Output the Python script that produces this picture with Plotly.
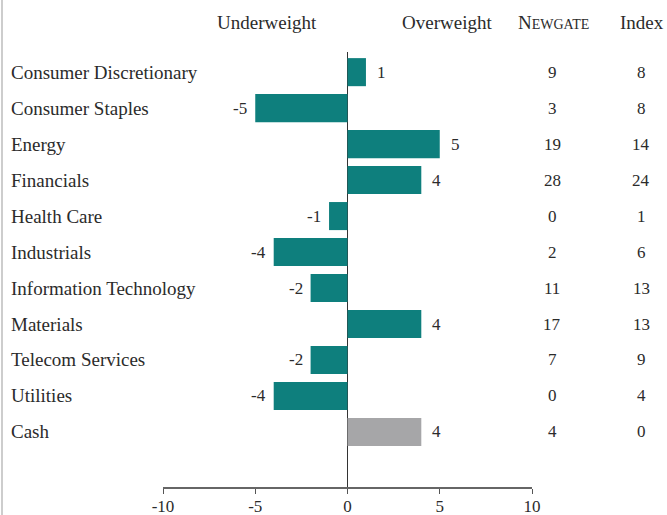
import plotly.graph_objects as go

categories = ["Consumer Discretionary", "Consumer Staples", "Energy", "Financials",
              "Health Care", "Industrials", "Information Technology", "Materials",
              "Telecom Services", "Utilities", "Cash"]
active = [1, -5, 5, 4, -1, -4, -2, 4, -2, -4, 4]
newgate = [9, 3, 19, 28, 0, 2, 11, 17, 7, 0, 4]
index_w = [8, 8, 14, 24, 1, 6, 13, 13, 9, 4, 0]
x_ticks = [-10, -5, 0, 5, 10]

TEAL = "#0e7f7d"
GRAY = "#a6a6a8"
TXT = "#2b2b2b"
FONT = "Liberation Serif"
TS = 19   # label text size
NS = 17   # number size

W, H = 667, 515
L, R, T, B = 163, 135, 52, 28
pw, ph = W - L - R, H - T - B

def px_x(p):
    return (p - L) / pw

def px_y(p):
    return 1 - (p - T) / ph

colors = [GRAY if c == "Cash" else TEAL for c in categories]

fig = go.Figure(go.Bar(
    x=active, y=categories, orientation="h",
    marker=dict(color=colors, line=dict(width=0)),
    hoverinfo="skip",
))

ann = []
for c, v, n, ix in zip(categories, active, newgate, index_w):
    ann.append(dict(x=px_x(9), xref="paper", y=c, yref="y", text=c, showarrow=False,
                    xanchor="left", font=dict(size=TS, color=TXT, family=FONT)))
    ann.append(dict(x=v, xref="x", y=c, yref="y", text=str(v), showarrow=False,
                    xanchor="left" if v >= 0 else "right", xshift=9 if v >= 0 else -6,
                    font=dict(size=NS, color=TXT, family=FONT)))
    ann.append(dict(x=px_x(552), xref="paper", y=c, yref="y", text=str(n), showarrow=False,
                    xanchor="center", font=dict(size=NS, color=TXT, family=FONT)))
    ann.append(dict(x=px_x(641), xref="paper", y=c, yref="y", text=str(ix), showarrow=False,
                    xanchor="center", font=dict(size=NS, color=TXT, family=FONT)))

hdr_y = px_y(22)
for txt, xp in [("Underweight", 267), ("Overweight", 447),
                ("N<span style='font-size:14px'>EWGATE</span>", 553), ("Index", 642)]:
    ann.append(dict(x=px_x(xp), xref="paper", y=hdr_y, yref="paper", text=txt,
                    showarrow=False, xanchor="center", yanchor="middle",
                    font=dict(size=TS, color=TXT, family=FONT)))

fig.update_layout(
    width=W, height=H,
    margin=dict(l=L, r=R, t=T, b=B, autoexpand=False),
    paper_bgcolor="white", plot_bgcolor="white",
    showlegend=False,
    bargap=0.22,
    annotations=ann,
    font=dict(family=FONT, color=TXT),
    xaxis=dict(range=[-10, 10], tickvals=x_ticks, ticktext=[str(t) for t in x_ticks],
               showgrid=False, zeroline=True, zerolinecolor="#333333", zerolinewidth=1.3,
               showline=True, linecolor="#666666", linewidth=1.5,
               ticks="outside", ticklen=5, tickcolor="#555555", tickwidth=1,
               ticklabelstandoff=-2,
               tickfont=dict(size=NS, color=TXT, family=FONT), fixedrange=True,
               automargin=False),
    yaxis=dict(categoryorder="array", categoryarray=categories,
               range=[len(categories) - 1 + 1.53, -0.56],
               showticklabels=False, showgrid=False, zeroline=False, showline=False,
               ticks="", fixedrange=True, automargin=False),
    shapes=[dict(type="line", xref="paper", yref="paper",
                 x0=px_x(2), x1=px_x(2), y0=px_y(-5), y1=px_y(520),
                 line=dict(color="#bdbdbd", width=1.5))],
)

fig.write_html("out.html", config={"displayModeBar": False})

with open("out.html", encoding="utf-8") as f:
    html = f.read()
html = html.replace("<body>", "<body style=\"margin:0;padding:0;overflow:hidden\">", 1)
with open("out.html", "w", encoding="utf-8") as f:
    f.write(html)
